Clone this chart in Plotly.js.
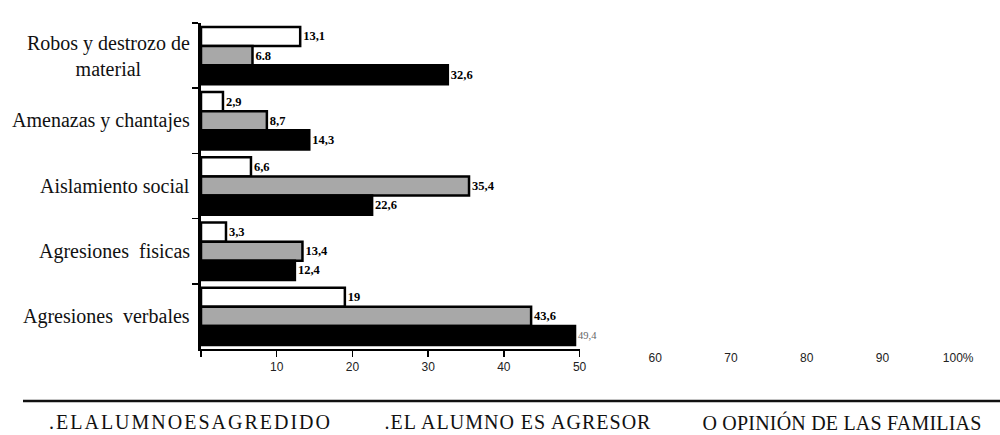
<!DOCTYPE html>
<html>
<head>
<meta charset="utf-8">
<script src="https://cdn.plot.ly/plotly-3.0.1.min.js"></script>
<style>html,body{margin:0;padding:0;background:#fff;}#chart{width:1000px;height:435px;}</style>
</head>
<body>
<div id="chart"></div>
<script>
// Categories (top to bottom)
const categories = ["Robos y destrozo de<br>material", "Amenazas y chantajes", "Aislamiento social", "Agresiones  fisicas", "Agresiones  verbales"];
// Series values
const familias = [13.1, 2.9, 6.6, 3.3, 19];
const agresor = [6.8, 8.7, 35.4, 13.4, 43.6];
const agredido = [32.6, 14.3, 22.6, 12.4, 49.4];
// Value labels as printed
const familiasLabels = ["13,1", "2,9", "6,6", "3,3", "19"];
const agresorLabels = ["6.8", "8,7", "35,4", "13,4", "43,6"];
const agredidoLabels = ["32,6", "14,3", "22,6", "12,4", "49,4"];
// Tick labels
const tickVals1 = [0, 10, 20, 30, 40, 50];
const tickText1 = ["", "10", "20", "30", "40", "50"];
const tickVals2 = [60, 70, 80, 90, 100];
const tickText2 = ["60", "70", "80", "90", "100%"];
// Legend texts
const legendTexts = [".ELALUMNOESAGREDIDO", ".EL ALUMNO ES AGRESOR", "O OPINIÓN DE LAS FAMILIAS"];

const serif = "Liberation Serif";
const sans = "Liberation Sans";

function barTrace(vals, labels, color, fontOpts) {
  return {
    type: "bar", orientation: "h",
    y: categories, x: vals,
    text: labels, textposition: "outside", cliponaxis: false,
    textfont: Object.assign({family: serif, size: 12.5, color: "#000", weight: 700}, fontOpts || {}),
    marker: {color: color, line: {color: "#000", width: 2.5}},
    hoverinfo: "skip", showlegend: false
  };
}

const data = [
  barTrace(familias, familiasLabels, "#ffffff"),
  barTrace(agresor, agresorLabels, "#a8a8a8"),
  barTrace(agredido, agredidoLabels, "#000000", {
    color: agredido.map((v, i) => i === 4 ? "#666" : "#000"),
    weight: agredido.map((v, i) => i === 4 ? 400 : 700),
    size: agredido.map((v, i) => i === 4 ? 10.5 : 12.5)
  }),
  // empty trace so the second (label-only) x axis is drawn
  {type: "scatter", x: [], y: [], xaxis: "x2", yaxis: "y", showlegend: false, hoverinfo: "skip"}
];

const L = 201, PW = 795, B = 349, PH = 326;
const annotations = categories.map(c => ({
  xref: "paper", yref: "y", x: 0, y: c, xanchor: "right", yanchor: "middle",
  xshift: -9, text: c, showarrow: false, align: "center",
  font: {family: serif, size: 20, color: "#111"}
}));
const legendCenters = [190, 518, 842];
legendTexts.forEach((t, i) => {
  annotations.push({
    xref: "paper", yref: "paper", x: (legendCenters[i] - L) / PW, y: -(422 - B) / PH,
    xanchor: "center", yanchor: "middle", text: t, showarrow: false,
    font: {family: serif, size: 20, color: "#111"}
  });
});

const layout = {
  width: 1000, height: 435,
  margin: {l: L, r: 1000 - L - PW, t: B - PH, b: 435 - B},
  paper_bgcolor: "#fff", plot_bgcolor: "#fff",
  barmode: "group", bargap: 0.12, bargroupgap: 0,
  xaxis: {
    range: [0, 50], domain: [0, 50 / 105], showgrid: false, zeroline: false,
    showline: true, linecolor: "#000", linewidth: 2,
    ticks: "outside", ticklen: 6, tickwidth: 1.5, tickcolor: "#000",
    tickmode: "array", tickvals: tickVals1, ticktext: tickText1,
    tickfont: {family: sans, size: 12, color: "#222"}
  },
  xaxis2: {
    range: [50, 105], domain: [50 / 105, 1], anchor: "y", showgrid: false, zeroline: false,
    showline: false, ticks: "", tickmode: "array", tickvals: tickVals2, ticktext: tickText2,
    tickfont: {family: sans, size: 12, color: "#222"}
  },
  yaxis: {
    type: "category", autorange: "reversed", showgrid: false, zeroline: false,
    showline: true, linecolor: "#000", linewidth: 3.5,
    ticks: "outside", tickson: "boundaries", ticklen: 6, tickwidth: 1.5, tickcolor: "#000",
    showticklabels: false
  },
  shapes: [{
    type: "line", xref: "paper", yref: "paper",
    x0: (23 - L) / PW, x1: (1000 - L) / PW,
    y0: -(401 - B) / PH, y1: -(401 - B) / PH,
    line: {color: "#111", width: 2.7}
  }],
  annotations: annotations
};

const legendSpacing = ["2px", "1px", "0.2px"];
Plotly.newPlot("chart", data, layout, {staticPlot: true, displayModeBar: false}).then(gd => {
  const texts = gd.querySelectorAll(".annotation-text");
  const n = categories.length;
  legendSpacing.forEach((s, i) => {
    if (texts[n + i]) texts[n + i].style.letterSpacing = s;
  });
});
</script>
</body>
</html>
